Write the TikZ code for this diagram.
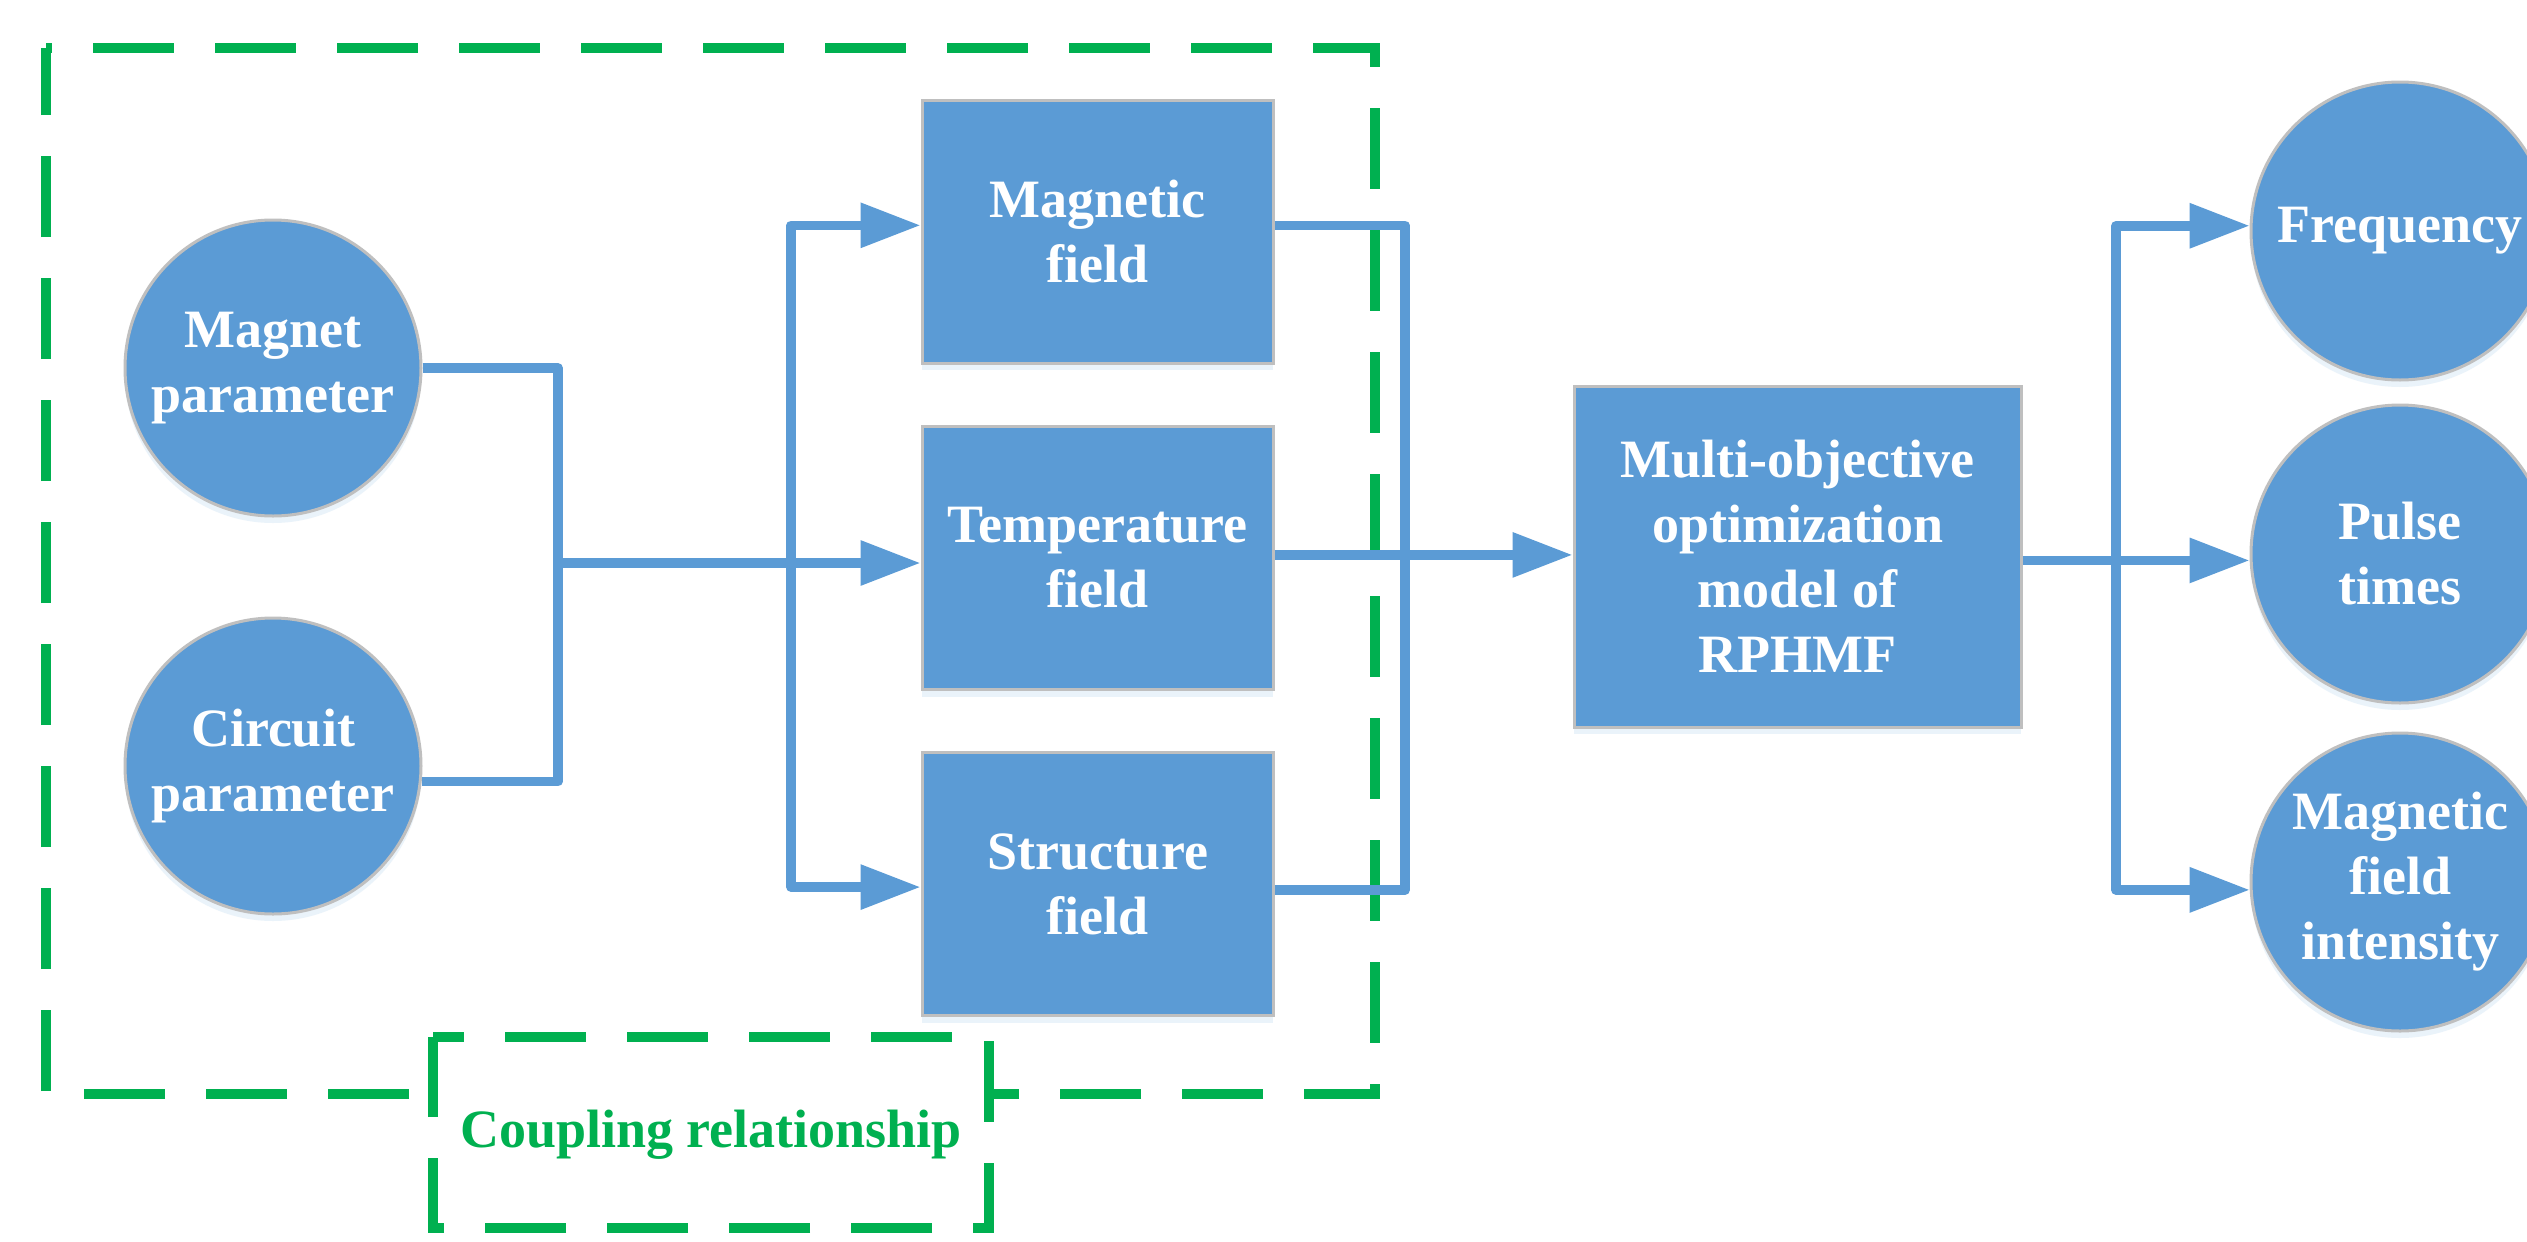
\documentclass[tikz,border=0pt]{standalone}
\usepackage{fontspec}
\setmainfont{Liberation Serif}
\usetikzlibrary{arrows.meta,shadows}
\definecolor{boxblue}{HTML}{5B9BD5}
\definecolor{edgegray}{HTML}{BFBFBF}
\definecolor{dashgreen}{HTML}{00B050}
\definecolor{haze}{HTML}{DDEBF7}
\tikzset{
  shape base/.style={fill=boxblue, draw=edgegray, line width=3pt, text=white,
    align=center, inner sep=0pt,
    font=\fontsize{54}{65}\selectfont\bfseries,
    drop shadow={shadow xshift=0pt, shadow yshift=-7pt, opacity=0.6, fill=haze}},
  roundnode/.style={shape base, circle, minimum size=296pt},
  fieldbox/.style={shape base, rectangle, minimum width=351pt, minimum height=263pt},
  modelbox/.style={shape base, rectangle, minimum width=447pt, minimum height=341pt},
  conn/.style={draw=boxblue, line width=9.5pt, line join=round},
  tip/.tip={Triangle[length=60pt, width=43pt]},
  greenframe/.style={draw=dashgreen, line width=10pt, dash pattern=on 81pt off 41pt},
}
\begin{document}
\begin{tikzpicture}[x=1pt, y=-1pt]
\clip (0,0) rectangle (2527,1242);
\fill[white] (0,0) rectangle (2527,1242);

% coupling frame
\draw[greenframe, dash phase=75pt] (46,48) -- (1375,48) -- (1375,1094) -- (46,1094) -- cycle;
\draw[greenframe, fill=white, dash phase=50pt] (433,1037) -- (989,1037) -- (989,1228) -- (433,1228) -- cycle;
\node[text=dashgreen, font=\fontsize{54}{65}\selectfont\bfseries] (cr) at (711,1135) {Coupling relationship};

% inputs
\node[roundnode] (mp) at (273,368) {Magnet\\parameter};
\node[roundnode] (cp) at (273,766) {Circuit\\parameter};

% physical fields
\node[fieldbox] (mf) at (1097.5,231.5) {Magnetic\\field};
\node[fieldbox] (tf) at (1097.5,558) {Temperature\\field};
\node[fieldbox] (sf) at (1097.5,884) {Structure\\field};

% optimization model
\node[modelbox] (mo) at (1797.5,556.5) {Multi-objective\\optimization\\model of\\RPHMF};

% objectives
\node[roundnode, minimum size=298pt] (fq) at (2400,231) {Frequency};
\node[roundnode, minimum size=298pt] (pt) at (2400,554) {Pulse\\times};
\node[roundnode, minimum size=298pt] (mi) at (2400,882) {Magnetic\\field\\intensity};

% bus lines
\coordinate (jA) at (558,563);
\coordinate (lB) at (791,0);
\coordinate (rC) at (1405,0);
\coordinate (rB) at (2116,0);

\draw[conn] (mp.east) -| (jA) |- (cp.-6);
\draw[conn, -{tip}] (jA) -- (jA -| tf.west);
\draw[conn, {tip}-{tip}] (mf.178.7) -| (lB |- sf.181.3) -- (sf.181.3);
\draw[conn] (mf.2.1) -| (rC |- sf.-2) -- (sf.-2);
\draw[conn, -{tip}] (tf.1.6) -- (tf.1.6 -| mo.west);
\draw[conn, -{tip}] (mo.-1.4) -- (mo.-1.4 -| pt.west);
\draw[conn, {tip}-{tip}] (fq.178) -| (rB |- mi.183) -- (mi.183);
\end{tikzpicture}
\end{document}
